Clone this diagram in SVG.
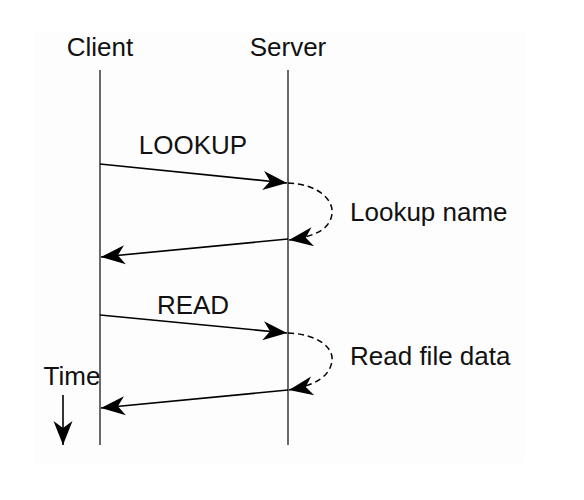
<svg xmlns="http://www.w3.org/2000/svg" width="584" height="500" viewBox="0 0 584 500">
<style>
text{font-family:"Liberation Sans",Arial,sans-serif;font-size:26px;fill:#111}
.life{stroke:#444;stroke-width:1.6;fill:none}
.msg{stroke:#000;stroke-width:1.6;fill:none;marker-end:url(#ah)}
.dash{stroke:#000;stroke-width:1.5;fill:none;stroke-dasharray:6 4;marker-end:url(#ah)}
</style>
<defs>
<marker id="ah" markerUnits="userSpaceOnUse" viewBox="-26 -11 28 22" refX="0" refY="0" markerWidth="28" markerHeight="22" orient="auto">
<path d="M0,0 L-24,-9.5 L-17,0 L-24,9.5 Z" fill="#000"/>
</marker>
</defs>
<rect x="34" y="32" width="491" height="431" fill="#fdfdfd"/>
<g id="client">
<text x="100" y="56" text-anchor="middle">Client</text>
<line class="life" x1="100" y1="70" x2="100" y2="445"/>
</g>
<g id="server">
<text x="288" y="56" text-anchor="middle">Server</text>
<line class="life" x1="288" y1="70" x2="288" y2="445"/>
</g>
<g id="labels">
<text x="193" y="154" text-anchor="middle">LOOKUP</text>
<text x="350" y="221">Lookup name</text>
<text x="193" y="314" text-anchor="middle">READ</text>
<text x="350" y="365">Read file data</text>
<text x="72" y="385" text-anchor="middle">Time</text>
</g>
<g id="connectors">
<line class="msg" x1="100" y1="164" x2="287" y2="183"/>
<path class="dash" d="M288,183 C318,184 334,200 332,214 C330,228 318,236 289,240"/>
<line class="msg" x1="288" y1="239" x2="101" y2="257"/>
<line class="msg" x1="100" y1="315" x2="287" y2="333"/>
<path class="dash" d="M288,333 C318,334 334,348 332,361 C330,375 318,385 289,390"/>
<line class="msg" x1="288" y1="390" x2="101" y2="408"/>
<line class="msg" x1="63" y1="395" x2="63" y2="445"/>
</g>
</svg>
